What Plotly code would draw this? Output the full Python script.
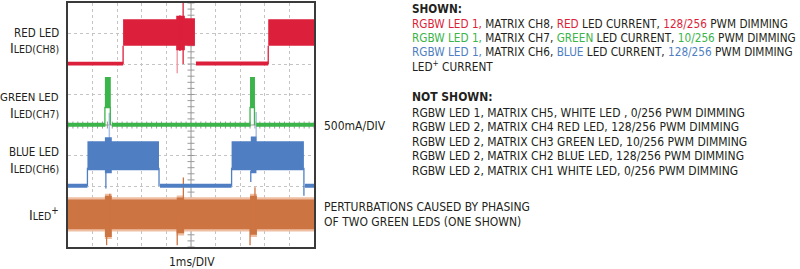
import plotly.graph_objects as go
import numpy as np

# ---------------- data (time in ms / divisions, level in divisions) ----------------
RED_BAND_T0 = [0.00, 2.24, 4.40, 4.75, 5.20, 8.14]
RED_BAND_T1 = [2.24, 4.40, 4.75, 5.16, 8.14, 10.0]
RED_BAND_LO = [5.95, 6.60, 6.45, 6.60, 5.95, 6.60]
RED_BAND_HI = [6.07, 7.47, 7.58, 7.50, 6.08, 7.47]
RED_SPIKE_T = [2.24, 4.55, 4.68, 8.14]
RED_SPIKE_LO = [6.00, 6.43, 6.00, 6.00]
RED_SPIKE_HI = [6.60, 7.60, 8.00, 6.60]
RED_GHOST_T = [4.44]
RED_GHOST_LO = [5.70]
RED_GHOST_HI = [7.00]

GREEN_BAND_T0 = [0.00, 1.50, 1.79, 7.40, 7.65]
GREEN_BAND_T1 = [1.50, 1.74, 7.40, 7.60, 10.0]
GREEN_BAND_LO = [3.94, 4.55, 3.94, 4.55, 3.94]
GREEN_BAND_HI = [4.07, 5.57, 4.07, 5.57, 4.07]
GREEN_SPIKE_T = [1.50, 1.72, 7.40, 7.58]
GREEN_SPIKE_LO = [3.95, 4.00, 3.95, 4.00]
GREEN_SPIKE_HI = [4.60, 4.60, 4.60, 4.60]

BLUE_BAND_T0 = [0.00, 0.79, 1.50, 1.78, 3.74, 6.65, 7.43, 7.66, 9.63]
BLUE_BAND_T1 = [0.79, 1.50, 1.78, 3.70, 6.65, 7.43, 7.66, 9.59, 10.0]
BLUE_BAND_LO = [1.94, 2.52, 2.42, 2.52, 1.94, 2.52, 2.42, 2.52, 1.94]
BLUE_BAND_HI = [2.07, 3.47, 3.60, 3.47, 2.07, 3.47, 3.62, 3.47, 2.07]
BLUE_SPIKE_T = [0.79, 1.54, 3.70, 6.65, 7.43, 9.59]
BLUE_SPIKE_LO = [2.00, 1.92, 2.00, 2.00, 2.13, 1.68]
BLUE_SPIKE_HI = [2.60, 2.50, 2.60, 2.60, 2.50, 2.60]
BLUE_GHOST_T = [1.68, 7.65]
BLUE_GHOST_LO = [3.40, 3.40]
BLUE_GHOST_HI = [4.40, 4.43]

ORANGE_BAND_T0 = [0.00, 1.50, 1.78, 4.42, 4.72, 7.40, 7.68]
ORANGE_BAND_T1 = [1.50, 1.78, 4.42, 4.72, 7.40, 7.68, 10.0]
ORANGE_BAND_LO = [0.58, 0.33, 0.58, 0.45, 0.58, 0.40, 0.58]
ORANGE_BAND_HI = [1.56, 1.68, 1.56, 1.62, 1.56, 1.68, 1.56]
ORANGE_SPIKE_T = [1.57, 1.70, 4.44, 4.69, 7.40, 7.60]
ORANGE_SPIKE_LO = [0.06, 0.50, 0.06, 0.50, 0.06, 0.50]
ORANGE_SPIKE_HI = [1.00, 1.75, 1.00, 2.28, 1.00, 1.96]

BASELINES = [6.0, 4.0, 2.0, 0.0]

RED, GREEN, BLUE, ORANGE = "#dc1f3b", "#3bb44a", "#4f7fc2", "#cd7443"
RED_L, BLUE_L, ORANGE_L = "#f0a0ac", "#a9c2e6", "#eebfa3"
GRAY_TXT = "#231f20"

FONT = "DejaVu Sans Condensed, sans-serif"


def band_trace(t0, t1, lo, hi, color, pad=0.0):
    xs, ys = [], []
    for a, b, l, h in zip(t0, t1, lo, hi):
        xs += [a, b, b, a, a, None]
        ys += [l - pad, l - pad, h + pad, h + pad, l - pad, None]
    return go.Scatter(x=xs, y=ys, mode="lines", fill="toself", fillcolor=color,
                      line=dict(width=0, color=color), hoverinfo="skip", showlegend=False)


def spike_trace(t, lo, hi, color, width=1.3):
    xs, ys = [], []
    for a, l, h in zip(t, lo, hi):
        xs += [a, a, None]
        ys += [l, h, None]
    return go.Scatter(x=xs, y=ys, mode="lines", line=dict(width=width, color=color),
                      hoverinfo="skip", showlegend=False)


fig = go.Figure()

# centre graticule lines with small ticks
fig.add_shape(type="line", x0=5, x1=5, y0=0, y1=8, line=dict(color="#9a9a9a", width=1), layer="below")
fig.add_shape(type="line", x0=0, x1=10, y0=4, y1=4, line=dict(color="#9a9a9a", width=1), layer="below")
tick_y = np.arange(0, 8.01, 0.2)
tick_x = np.arange(0, 10.01, 0.2)
fig.add_trace(go.Scatter(x=[5] * len(tick_y), y=tick_y, mode="markers",
                         marker=dict(symbol="line-ew", size=5, line=dict(width=1, color="#9a9a9a")),
                         hoverinfo="skip", showlegend=False))
fig.add_trace(go.Scatter(x=tick_x, y=[4] * len(tick_x), mode="markers",
                         marker=dict(symbol="line-ns", size=5, line=dict(width=1, color="#9a9a9a")),
                         hoverinfo="skip", showlegend=False))

# traces
fig.add_trace(spike_trace(RED_GHOST_T, RED_GHOST_LO, RED_GHOST_HI, RED_L, 1.5))
fig.add_trace(spike_trace(BLUE_GHOST_T, BLUE_GHOST_LO, BLUE_GHOST_HI, BLUE_L, 1.5))
fig.add_trace(band_trace(ORANGE_BAND_T0, ORANGE_BAND_T1, ORANGE_BAND_LO, ORANGE_BAND_HI, ORANGE_L, pad=0.07))
fig.add_trace(band_trace(ORANGE_BAND_T0, ORANGE_BAND_T1, ORANGE_BAND_LO, ORANGE_BAND_HI, ORANGE))
fig.add_trace(spike_trace(ORANGE_SPIKE_T, ORANGE_SPIKE_LO, ORANGE_SPIKE_HI, ORANGE))
fig.add_trace(band_trace(BLUE_BAND_T0, BLUE_BAND_T1, BLUE_BAND_LO, BLUE_BAND_HI, BLUE))
fig.add_trace(spike_trace(BLUE_SPIKE_T, BLUE_SPIKE_LO, BLUE_SPIKE_HI, BLUE))
fig.add_trace(band_trace(GREEN_BAND_T0, GREEN_BAND_T1, GREEN_BAND_LO, GREEN_BAND_HI, GREEN))
fig.add_trace(spike_trace(GREEN_SPIKE_T, GREEN_SPIKE_LO, GREEN_SPIKE_HI, GREEN))
fig.add_trace(band_trace(RED_BAND_T0, RED_BAND_T1, RED_BAND_LO, RED_BAND_HI, RED))
fig.add_trace(spike_trace(RED_SPIKE_T, RED_SPIKE_LO, RED_SPIKE_HI, RED))

# channel reference markers
fig.add_trace(go.Scatter(x=[-0.13] * 4, y=BASELINES, mode="markers", cliponaxis=False,
                         marker=dict(symbol="triangle-right", size=6, color=[RED, GREEN, BLUE, ORANGE]),
                         hoverinfo="skip", showlegend=False))

# ---------------- layout ----------------
L, R, T, B = 68, 314, 1, 247
W, H = R - L, B - T


def px(x):
    return (x - L) / W


def py(y):
    return (B - y) / H


ann = []


def text(x, y, s, anchor="left", size=12, color=GRAY_TXT):
    ann.append(dict(x=px(x), y=py(y), xref="paper", yref="paper", text=s, showarrow=False,
                    xanchor=anchor, yanchor="middle", font=dict(family=FONT, size=size, color=color)))


def ilabel(y, sub):
    text(61, y, 'I<span style="font-size:10.5px">' + sub + '</span>', "right", size=14)


# left labels
text(61, 31.5, "RED LED", "right", size=11.5)
ilabel(46.5, "LED(CH8)")
text(61, 96, "GREEN LED", "right", size=11.3)
ilabel(111.5, "LED(CH7)")
text(61, 151.5, "BLUE LED", "right", size=11.5)
ilabel(167, "LED(CH6)")
text(61, 214, 'I<span style="font-size:10.5px">LED</span><sup>+</sup>', "right", size=14)

text(192, 262, "1ms/DIV", "center")
text(322, 125, "500mA/DIV")
text(322, 207, "PERTURBATIONS CAUSED BY PHASING")
text(322, 222, "OF TWO GREEN LEDS (ONE SHOWN)")


def c(s, col):
    return f'<span style="color:{col}">{s}</span>'


SZ = 11.7
text(410, 7, "<b>SHOWN:</b>", size=SZ)
text(410, 22, c("RGBW LED 1,", RED) + " MATRIX CH8, " + c("RED", RED) + " LED CURRENT, " + c("128/256", RED) + " PWM DIMMING", size=SZ)
text(410, 36.5, c("RGBW LED 1,", GREEN) + " MATRIX CH7, " + c("GREEN", GREEN) + " LED CURRENT, " + c("10/256", GREEN) + " PWM DIMMING", size=SZ)
text(410, 50.5, c("RGBW LED 1,", BLUE) + " MATRIX CH6, " + c("BLUE", BLUE) + " LED CURRENT, " + c("128/256", BLUE) + " PWM DIMMING", size=SZ)
text(410, 65, "LED<sup>+</sup> CURRENT", size=SZ)
text(410, 96, "<b>NOT SHOWN:</b>")
NOT_SHOWN = [
    "RGBW LED 1, MATRIX CH5, WHITE LED , 0/256 PWM DIMMING",
    "RGBW LED 2, MATRIX CH4 RED LED, 128/256 PWM DIMMING",
    "RGBW LED 2, MATRIX CH3 GREEN LED, 10/256 PWM DIMMING",
    "RGBW LED 2, MATRIX CH2 BLUE LED, 128/256 PWM DIMMING",
    "RGBW LED 2, MATRIX CH1 WHITE LED, 0/256 PWM DIMMING",
]
for i, s in enumerate(NOT_SHOWN):
    text(410, 112 + i * 14.5, s)

axis_common = dict(showgrid=True, gridcolor="#c4c4c4", griddash="dot", gridwidth=1,
                   showline=True, linecolor="#3a3a3a", linewidth=1.5, mirror=True,
                   ticks="", showticklabels=False, zeroline=False, fixedrange=True)

fig.update_layout(
    width=800, height=269,
    margin=dict(l=L, r=800 - R, t=T, b=269 - B),
    paper_bgcolor="white", plot_bgcolor="white",
    xaxis=dict(range=[0, 10], dtick=1, **axis_common),
    yaxis=dict(range=[0, 8], dtick=1, **axis_common),
    annotations=ann,
    showlegend=False,
)

fig.write_html("out.html")
